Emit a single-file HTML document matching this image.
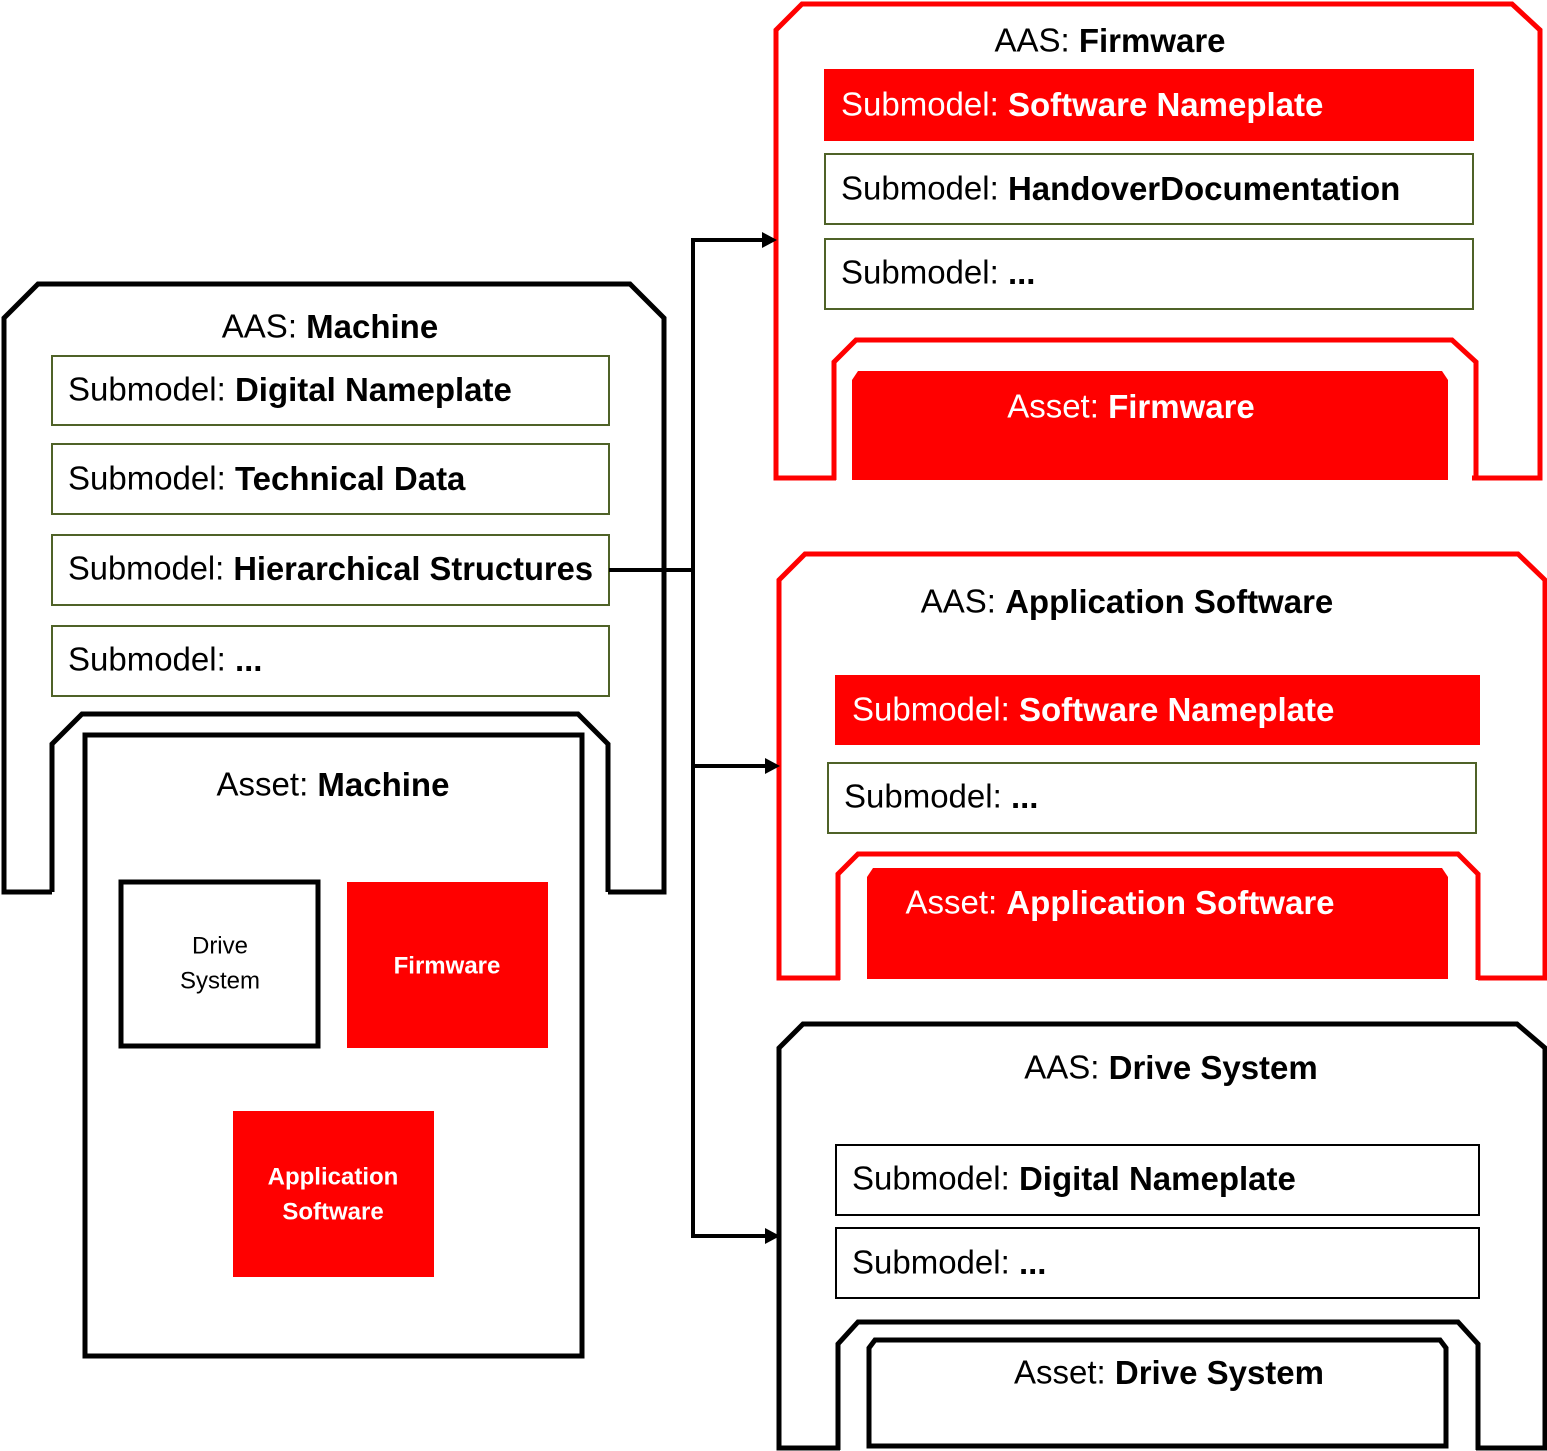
<!DOCTYPE html>
<html><head><meta charset="utf-8"><style>
html,body{margin:0;padding:0;background:#fff}
svg{display:block}
text{font-family:"Liberation Sans",sans-serif;font-size:33px;dominant-baseline:middle}
.b{font-weight:bold}
</style></head><body>
<svg width="1547" height="1451" viewBox="0 0 1547 1451" xmlns="http://www.w3.org/2000/svg">
<g fill="none" stroke-linejoin="miter">
<path d="M52,892 L4,892 L4,318 L38,284 L630,284 L664,318 L664,892 L608,892" stroke="#000" stroke-width="5"/>
<path d="M52,892 L52,744 L82,714 L578,714 L608,744 L608,892" stroke="#000" stroke-width="5"/>
<rect x="85" y="735" width="497" height="621" stroke="#000" stroke-width="5"/>
<path d="M836,478 L776,478 L776,30 L802,4 L1512,4 L1540,30 L1540,478 L1472,478" stroke="#f00" stroke-width="5"/>
<path d="M834,480 L834,362 L856,340 L1452,340 L1476,362 L1476,480" stroke="#f00" stroke-width="5"/>
<path d="M840,978 L779,978 L779,580 L805,554 L1518,554 L1545,580 L1545,978 L1478,978" stroke="#f00" stroke-width="5"/>
<path d="M838,980 L838,874 L858,854 L1458,854 L1478,874 L1478,980" stroke="#f00" stroke-width="5"/>
<path d="M840,1448 L779,1448 L779,1048 L803,1024 L1517,1024 L1545,1048 L1545,1448 L1476,1448" stroke="#000" stroke-width="5"/>
<path d="M838,1450 L838,1344 L858,1322 L1458,1322 L1478,1344 L1478,1450" stroke="#000" stroke-width="5"/>
<path d="M869,1446 L869,1348 L875,1340 L1440,1340 L1446,1348 L1446,1446 Z" stroke="#000" stroke-width="5"/>
</g>
<path d="M852,480 L852,380 L858,371 L1442,371 L1448,380 L1448,480 Z" fill="#f00"/>
<path d="M867,979 L867,877 L873,868 L1442,868 L1448,877 L1448,979 Z" fill="#f00"/>
<g fill="#fff" stroke="#4f6228" stroke-width="2">
<rect x="52" y="356" width="557" height="69"/>
<rect x="52" y="444" width="557" height="70"/>
<rect x="52" y="535" width="557" height="70"/>
<rect x="52" y="626" width="557" height="70"/>
<rect x="825" y="154" width="648" height="70"/>
<rect x="825" y="239" width="648" height="70"/>
<rect x="828" y="763" width="648" height="70"/>
</g>
<g fill="#fff" stroke="#000" stroke-width="2">
<rect x="836" y="1145" width="643" height="70"/>
<rect x="836" y="1228" width="643" height="70"/>
</g>
<rect x="824" y="69" width="650" height="72" fill="#f00"/>
<rect x="835" y="675" width="645" height="70" fill="#f00"/>
<rect x="121" y="882" width="197" height="164" fill="#fff" stroke="#000" stroke-width="5"/>
<rect x="347" y="882" width="201" height="166" fill="#f00"/>
<rect x="233" y="1111" width="201" height="166" fill="#f00"/>
<g fill="none" stroke="#000" stroke-width="4">
<path d="M609,570 L693,570"/>
<path d="M693,240 L693,1236"/>
<path d="M691,240 L766,240"/>
<path d="M693,766 L769,766"/>
<path d="M691,1236 L769,1236"/>
</g>
<g fill="#000">
<path d="M762,232 L777,240 L762,248 Z"/>
<path d="M765,758 L780,766 L765,774 Z"/>
<path d="M765,1228 L780,1236 L765,1244 Z"/>
</g>
<g fill="#000">
<text x="330" y="329" text-anchor="middle">AAS: <tspan class="b">Machine</tspan></text>
<text x="68" y="392">Submodel: <tspan class="b">Digital Nameplate</tspan></text>
<text x="68" y="481">Submodel: <tspan class="b">Technical Data</tspan></text>
<text x="68" y="571" textLength="525" lengthAdjust="spacingAndGlyphs">Submodel: <tspan class="b">Hierarchical Structures</tspan></text>
<text x="68" y="662">Submodel: <tspan class="b">...</tspan></text>
<text x="333" y="787" text-anchor="middle">Asset: <tspan class="b">Machine</tspan></text>
<text x="220" y="947" text-anchor="middle" style="font-size:24px">Drive</text>
<text x="220" y="982" text-anchor="middle" style="font-size:24px">System</text>
<text x="1110" y="43" text-anchor="middle">AAS: <tspan class="b">Firmware</tspan></text>
<text x="841" y="191">Submodel: <tspan class="b">HandoverDocumentation</tspan></text>
<text x="841" y="275">Submodel: <tspan class="b">...</tspan></text>
<text x="1127" y="604" text-anchor="middle">AAS: <tspan class="b">Application Software</tspan></text>
<text x="844" y="799">Submodel: <tspan class="b">...</tspan></text>
<text x="1171" y="1070" text-anchor="middle">AAS: <tspan class="b">Drive System</tspan></text>
<text x="852" y="1181">Submodel: <tspan class="b">Digital Nameplate</tspan></text>
<text x="852" y="1265">Submodel: <tspan class="b">...</tspan></text>
<text x="1169" y="1375" text-anchor="middle">Asset: <tspan class="b">Drive System</tspan></text>
</g>
<g fill="#fff">
<text x="841" y="107">Submodel: <tspan class="b">Software Nameplate</tspan></text>
<text x="852" y="712">Submodel: <tspan class="b">Software Nameplate</tspan></text>
<text x="1131" y="409" text-anchor="middle">Asset: <tspan class="b">Firmware</tspan></text>
<text x="1120" y="905" text-anchor="middle">Asset: <tspan class="b">Application Software</tspan></text>
<text x="447" y="967" text-anchor="middle" class="b" style="font-size:24px">Firmware</text>
<text x="333" y="1178" text-anchor="middle" class="b" style="font-size:24px">Application</text>
<text x="333" y="1213" text-anchor="middle" class="b" style="font-size:24px">Software</text>
</g>
</svg>
</body></html>
